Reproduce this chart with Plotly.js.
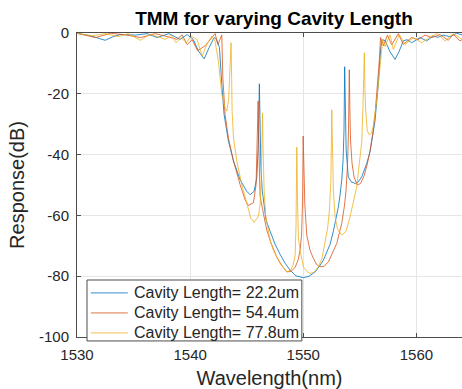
<!DOCTYPE html>
<html>
<head>
<meta charset="utf-8">
<script src="https://cdn.plot.ly/plotly-3.0.1.min.js"></script>
<style>
  html, body { margin: 0; padding: 0; background: #ffffff; }
  #chart { width: 462px; height: 389px; }
</style>
</head>
<body>
<div id="chart"></div>
<script>
// Transfer-matrix response of the grating for three cavity lengths.
const seriesNames = ['Cavity Length= 22.2um', 'Cavity Length= 54.4um', 'Cavity Length= 77.8um'];
const seriesColors = ['#0072BD', '#D95319', '#EDB120'];

// Cavity length 22.2 um
const wlL22 = [1530.00, 1531.17, 1532.49, 1533.20, 1533.82, 1535.14, 1536.20, 1537.08, 1538.12, 1539.12,
  1539.73, 1540.27, 1540.73, 1541.24, 1541.68, 1542.12, 1542.34, 1542.59, 1542.80, 1543.00,
  1543.38, 1543.83, 1544.42, 1545.01, 1545.30, 1545.65, 1545.89, 1546.03, 1546.12, 1546.17,
  1546.25, 1546.37, 1546.48, 1546.71, 1547.07, 1547.51, 1547.95, 1548.39, 1548.83, 1549.36,
  1550.01, 1550.51, 1551.04, 1551.40, 1551.78, 1552.10, 1552.37, 1552.66, 1552.90, 1553.10,
  1553.25, 1553.40, 1553.52, 1553.60, 1553.66, 1553.71, 1553.79, 1553.98, 1554.22, 1554.58,
  1554.84, 1555.17, 1555.61, 1555.90, 1556.17, 1556.34, 1556.63, 1556.85, 1556.99, 1557.23,
  1557.67, 1558.11, 1558.46, 1558.84, 1559.17, 1559.58, 1560.32, 1560.91, 1561.49, 1561.91,
  1562.38, 1562.97, 1563.56, 1564.03];
const dbL22 = [-0.1, -0.9, -2.4, -1.2, -0.5, -0.7, -0.2, -1.5, -0.2, -2.1,
  -0.5, -2.1, -5.9, -8.5, -4.8, -1.5, -2.2, -4.8, -16.9, -26.8,
  -35.5, -42.1, -48.3, -52.1, -53.2, -52.1, -47.7, -36.7, -16.7, -30.3,
  -43.4, -51.7, -55.6, -61.6, -65.2, -69.5, -72.8, -75.7, -78.0, -79.9,
  -80.5, -80.0, -78.6, -76.9, -74.7, -72.1, -69.5, -65.2, -61.2, -57.2,
  -53.3, -48.4, -41.8, -31.9, -11.1, -28.6, -38.5, -47.3, -48.9, -49.5,
  -49.1, -47.3, -42.9, -39.1, -33.5, -28.9, -16.9, -4.8, -2.2, -2.5,
  -6.2, -8.7, -6.2, -2.6, -2.2, -3.2, -1.5, -2.6, -1.0, -1.4,
  -0.7, -1.2, -0.1, -0.6];

// Cavity length 54.4 um
const wlL54 = [1530.00, 1531.63, 1532.96, 1534.26, 1535.61, 1536.91, 1537.88, 1538.85, 1539.29, 1539.73,
  1540.18, 1540.66, 1541.33, 1541.77, 1542.21, 1542.45, 1542.80, 1542.89, 1543.09, 1543.38,
  1543.83, 1544.42, 1544.86, 1545.15, 1545.59, 1545.83, 1545.94, 1546.01, 1546.06, 1546.12,
  1546.18, 1546.45, 1546.78, 1547.16, 1547.66, 1548.04, 1548.54, 1548.92, 1549.28, 1549.54,
  1549.72, 1549.85, 1549.94, 1549.99, 1550.04, 1550.14, 1550.31, 1550.60, 1550.89, 1551.17,
  1551.48, 1551.84, 1552.22, 1552.54, 1552.96, 1553.40, 1553.65, 1553.78, 1553.91, 1554.00,
  1554.07, 1554.12, 1554.18, 1554.31, 1554.49, 1554.78, 1555.06, 1555.37, 1555.64, 1555.90,
  1556.17, 1556.34, 1556.56, 1556.72, 1556.83, 1557.09, 1557.44, 1557.82, 1558.40, 1558.84,
  1559.58, 1560.14, 1560.76, 1561.38, 1562.08, 1562.82, 1563.26, 1563.85, 1564.03];
const dbL54 = [-0.1, -1.5, -0.1, -0.6, -1.5, -0.2, -1.1, -2.1, -0.6, -3.8,
  -2.2, -5.8, -4.2, -2.2, -0.2, -3.8, -0.7, -14.7, -26.8, -34.5,
  -42.1, -49.9, -54.9, -56.7, -55.9, -49.9, -36.7, -22.4, -35.2, -45.1,
  -53.6, -58.9, -64.9, -69.2, -73.7, -76.1, -78.6, -78.4, -77.1, -74.7,
  -71.5, -66.5, -55.0, -33.9, -45.1, -56.6, -66.5, -71.5, -74.1, -76.1,
  -76.9, -76.7, -75.3, -72.8, -69.2, -62.6, -56.6, -51.7, -43.4, -31.9,
  -12.1, -25.3, -35.2, -42.8, -47.4, -50.0, -49.5, -47.0, -43.4, -38.8,
  -32.5, -26.9, -18.0, -9.1, -1.5, -4.2, -0.7, -3.9, -0.2, -3.7,
  -1.5, -2.2, -0.7, -1.5, -0.5, -2.4, -0.5, -2.6, -2.2];

// Cavity length 77.8 um
const wlL78 = [1530.00, 1531.34, 1532.49, 1533.64, 1534.52, 1535.61, 1536.47, 1537.17, 1537.82, 1538.32,
  1538.76, 1539.20, 1539.65, 1540.09, 1540.62, 1541.06, 1541.50, 1541.92, 1542.21, 1542.50,
  1542.80, 1543.09, 1543.24, 1543.40, 1543.53, 1543.62, 1543.67, 1543.71, 1543.83, 1544.13,
  1544.57, 1545.01, 1545.36, 1545.65, 1546.03, 1546.18, 1546.27, 1546.36, 1546.40, 1546.45,
  1546.54, 1546.67, 1546.83, 1547.07, 1547.36, 1547.95, 1548.54, 1548.88, 1549.10, 1549.28,
  1549.36, 1549.43, 1549.49, 1549.57, 1549.72, 1550.01, 1550.31, 1550.60, 1550.95, 1551.33,
  1551.66, 1551.93, 1552.15, 1552.31, 1552.44, 1552.52, 1552.59, 1552.66, 1552.81, 1553.03,
  1553.40, 1553.78, 1554.13, 1554.43, 1554.73, 1554.87, 1555.04, 1555.17, 1555.28, 1555.40,
  1555.45, 1555.52, 1555.66, 1555.84, 1556.03, 1556.19, 1556.49, 1556.78, 1557.02, 1557.23,
  1557.67, 1557.96, 1558.49, 1558.99, 1559.73, 1560.47, 1561.35, 1561.82, 1562.53, 1563.26,
  1564.03];
const dbL78 = [-0.1, -0.9, -0.2, -1.2, -0.2, -2.4, -0.4, -1.2, -2.1, -0.6,
  -3.2, -1.5, -3.2, -1.0, -2.2, -7.6, -3.5, -1.0, -2.9, -9.2,
  -20.2, -24.6, -25.7, -22.0, -12.1, -3.2, -15.4, -25.7, -34.5, -42.2,
  -49.9, -56.5, -60.9, -62.3, -60.3, -56.6, -50.0, -34.5, -26.3, -38.5,
  -51.7, -59.9, -63.2, -68.2, -71.5, -75.8, -78.6, -78.0, -76.4, -73.1,
  -63.2, -37.5, -55.0, -67.5, -71.5, -76.9, -78.4, -79.1, -78.7, -76.9,
  -74.1, -69.2, -64.2, -58.3, -48.4, -25.3, -41.8, -51.7, -60.5, -64.5,
  -66.5, -65.2, -60.5, -55.3, -50.6, -45.7, -41.1, -35.8, -23.6, -6.5,
  -18.7, -25.6, -32.2, -33.5, -32.9, -30.6, -22.3, -10.4, -2.2, -4.5,
  -0.6, -5.4, -0.5, -3.8, -1.5, -3.2, -1.0, -0.2, -2.6, -0.2,
  -2.1];

const xTicks = [1530, 1540, 1550, 1560];
const yTicks = [-100, -80, -60, -40, -20, 0];

const fontFamily = '"Liberation Sans", Arial, Helvetica, sans-serif';
const inkColor = '#262626';
const frameColor = '#4d4d4d';

const wavelengths = [wlL22, wlL54, wlL78];
const responses = [dbL22, dbL54, dbL78];

const traces = seriesNames.map((name, i) => ({
  type: 'scatter',
  mode: 'lines',
  name: name,
  x: wavelengths[i],
  y: responses[i],
  line: { color: seriesColors[i], width: 0.8 },
  showlegend: false,
  hoverinfo: 'x+y+name'
}));

// Compact boxed key in the lower-left corner of the axes (paper coordinates).
const key = { left: 0.026, right: 0.584, top: 0.1875, bottom: -0.013,
              rowTop: 0.145, rowStep: 0.0658, lineFrom: 0.036, lineTo: 0.132, textAt: 0.143 };

const keyShapes = [{
  type: 'rect', xref: 'paper', yref: 'paper', layer: 'above',
  x0: key.left, x1: key.right, y0: key.bottom, y1: key.top,
  fillcolor: '#ffffff', line: { color: frameColor, width: 1 }
}].concat(seriesNames.map((name, i) => ({
  type: 'line', xref: 'paper', yref: 'paper', layer: 'above',
  x0: key.lineFrom, x1: key.lineTo,
  y0: key.rowTop - i * key.rowStep, y1: key.rowTop - i * key.rowStep,
  line: { color: seriesColors[i], width: 0.8 }
})));

const keyLabels = seriesNames.map((name, i) => ({
  xref: 'paper', yref: 'paper',
  x: key.textAt, y: key.rowTop - i * key.rowStep,
  xanchor: 'left', yanchor: 'middle',
  text: name, showarrow: false,
  font: { family: fontFamily, size: 16, color: inkColor }
}));

const axisCommon = {
  showgrid: true,
  gridcolor: '#e6e6e6',
  gridwidth: 1,
  zeroline: false,
  showline: true,
  linecolor: frameColor,
  linewidth: 1,
  ticks: 'inside',
  ticklen: 4,
  tickwidth: 1,
  tickcolor: frameColor,
  tickfont: { family: fontFamily, size: 15, color: inkColor }
};

const layout = {
  width: 462,
  height: 389,
  margin: { l: 77, r: 0, t: 33, b: 52, pad: 0 },
  paper_bgcolor: '#ffffff',
  plot_bgcolor: '#ffffff',
  showlegend: false,
  title: {
    text: 'TMM for varying Cavity Length',
    font: { family: fontFamily, size: 19, color: '#000000', weight: 'bold' },
    xref: 'container',
    x: 274 / 462,
    xanchor: 'center',
    yref: 'container',
    y: 1 - 18 / 389,
    yanchor: 'middle'
  },
  xaxis: Object.assign({}, axisCommon, {
    range: [1530, 1564.03],
    tickvals: xTicks,
    ticktext: xTicks.map(String),
    mirror: 'ticks',
    ticklabelstandoff: 4,
    title: {
      text: 'Wavelength(nm)',
      font: { family: fontFamily, size: 20, color: inkColor },
      standoff: 11
    }
  }),
  yaxis: Object.assign({}, axisCommon, {
    range: [-100, 0],
    tickvals: yTicks,
    ticktext: yTicks.map(String),
    ticklabelstandoff: 4,
    title: {
      text: 'Response(dB)',
      font: { family: fontFamily, size: 20, color: inkColor },
      standoff: 8
    }
  }),
  shapes: keyShapes,
  annotations: keyLabels
};

Plotly.newPlot('chart', traces, layout, { displayModeBar: false, staticPlot: true });
</script>
</body>
</html>
